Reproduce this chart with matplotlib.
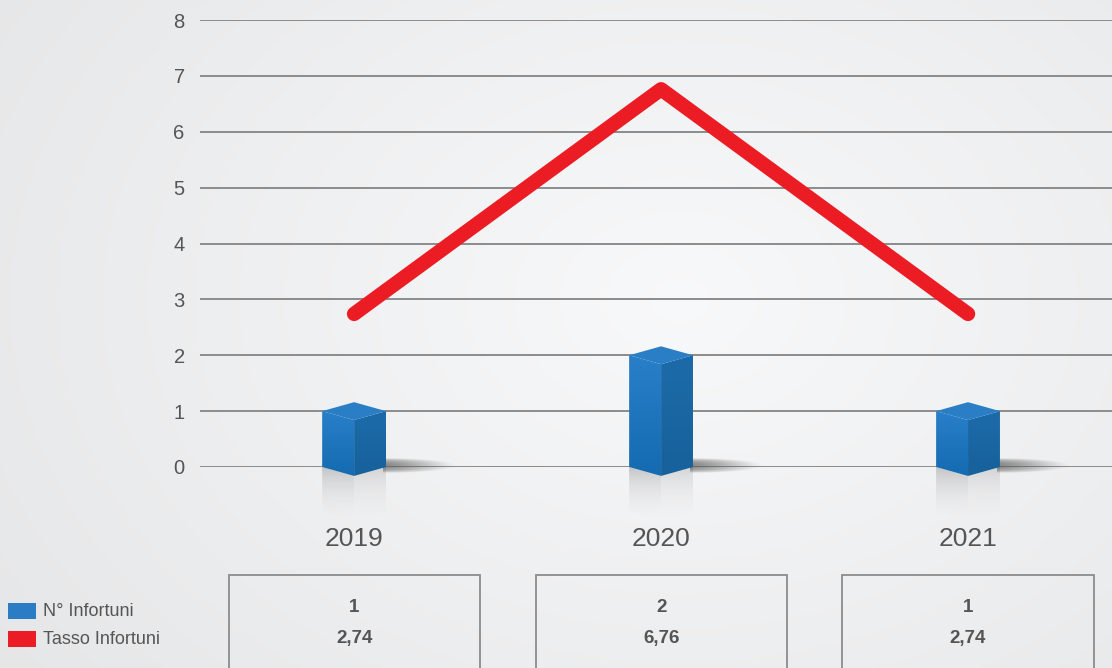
import numpy as np
import matplotlib.pyplot as plt
from matplotlib.patches import Polygon, Rectangle
from matplotlib.transforms import blended_transform_factory

years = ["2019", "2020", "2021"]
n_infortuni = [1, 2, 1]
tasso_infortuni = [2.74, 6.76, 2.74]
n_labels = ["1", "2", "1"]
tasso_labels = ["2,74", "6,76", "2,74"]

plt.rcParams['font.family'] = ['Liberation Sans', 'DejaVu Sans']
TXT = '#555555'

fig = plt.figure(figsize=(11.12, 6.68), dpi=100)

# background: soft radial gradient
bg = fig.add_axes([0, 0, 1, 1])
yy, xx = np.mgrid[0:668, 0:1112]
r = np.sqrt(((xx - 680) / 700.0) ** 2 + ((yy - 300) / 520.0) ** 2)
shade = np.clip(0.975 - 0.06 * r, 0.905, 0.98)
rgb = np.dstack([shade - 0.003, shade, shade + 0.004])
bg.imshow(np.clip(rgb, 0, 1), extent=[0, 1, 0, 1], aspect='auto', interpolation='bilinear')
bg.set_axis_off()

ax = fig.add_axes([200 / 1112, 201 / 668, 912 / 1112, 447 / 668])
ax.patch.set_alpha(0)
x = np.arange(len(years))
ax.set_xlim(-0.502, 2.469)
ax.set_ylim(0, 8)
ax.set_yticks(range(0, 9))
ax.grid(axis='y', color='#8c8c8c', linewidth=1.4)
ax.set_axisbelow(True)
for s in ax.spines.values():
    s.set_visible(False)
ax.tick_params(axis='y', length=0, pad=11, labelsize=14.5, labelcolor=TXT)
ax.set_xticks(x)
ax.set_xticklabels(years, fontsize=19, color=TXT)
ax.tick_params(axis='x', length=0, pad=43)

hw = 0.104
dy = 0.16


def clipped_image(img, extent, poly, z):
    im = ax.imshow(img, extent=extent, aspect='auto', origin='upper',
                   zorder=z, interpolation='bilinear')
    ax.add_patch(poly)
    poly.set_visible(False)
    im.set_clip_box(fig.bbox)
    im.set_clip_path(poly)
    return im


def vgrad(c_top, c_bot, a_top=1.0, a_bot=1.0, n=64, power=1.0):
    t = np.linspace(0, 1, n)[:, None, None]
    ct = np.array(c_top)[None, None, :]
    cb = np.array(c_bot)[None, None, :]
    col = ct * (1 - t) + cb * t
    a = a_top * (1 - t ** power) + a_bot * t ** power
    img = np.concatenate([col, a * np.ones_like(t)], axis=2)
    return np.repeat(img, 2, axis=1)


for xi, v in zip(x, n_infortuni):
    # reflection under the cube
    refl = vgrad((0.68, 0.68, 0.69), (0.85, 0.85, 0.86), 0.7, 0.0, power=0.7)
    pf = Polygon([(xi - hw, 0), (xi, -dy), (xi, -dy - 0.8), (xi - hw, -0.8)], closed=True)
    clipped_image(refl, [xi - hw, xi, -dy - 0.75, -0.01], pf, 2)
    refl2 = vgrad((0.76, 0.76, 0.77), (0.9, 0.9, 0.9), 0.65, 0.0, power=0.7)
    ps = Polygon([(xi, -dy), (xi + hw, 0), (xi + hw, -0.8), (xi, -dy - 0.8)], closed=True)
    clipped_image(refl2, [xi, xi + hw, -dy - 0.75, -0.01], ps, 2)

    # soft shadow to the right
    sx = np.linspace(0, 1, 80)[None, :]
    sy = np.linspace(-1, 1, 32)[:, None]
    sa = np.clip(1 - sx ** 2 - sy ** 2, 0, 1) ** 0.7 * 0.7 * (1 - sx) ** 0.6
    shadow = np.concatenate([np.full((32, 80, 3), 0.35), sa[..., None]], axis=2)
    sh = ax.imshow(shadow, extent=[xi + hw - 0.01, xi + hw + 0.23, -0.1, 0.16], aspect='auto',
                   zorder=2, interpolation='bilinear')
    sh.set_clip_box(fig.bbox)

    # cube faces
    front = Polygon([(xi - hw, 0), (xi - hw, v), (xi, v - dy), (xi, -dy)], closed=True)
    clipped_image(vgrad((0.16, 0.50, 0.79), (0.08, 0.42, 0.69)), [xi - hw, xi, -dy, v], front, 3)
    side = Polygon([(xi, -dy), (xi, v - dy), (xi + hw, v), (xi + hw, 0)], closed=True)
    clipped_image(vgrad((0.11, 0.42, 0.66), (0.09, 0.38, 0.61)), [xi, xi + hw, -dy, v], side, 3)
    top = Polygon([(xi - hw, v), (xi, v + dy), (xi + hw, v), (xi, v - dy)], closed=True,
                  facecolor='#2a7ec5', edgecolor='none', zorder=4, clip_on=False)
    ax.add_patch(top)

ax.plot(x, tasso_infortuni, color='#ec1c24', linewidth=10.4, solid_capstyle='round',
        solid_joinstyle='round', zorder=5, clip_on=False)

# table under the chart
trans = blended_transform_factory(ax.transData, fig.transFigure)
for xi, a, b in zip(x, n_labels, tasso_labels):
    ax.add_patch(Rectangle((xi - 0.409, -0.05), 0.818, 0.05 + 1 - 575 / 668, transform=trans,
                           facecolor='none', edgecolor='#8c8c8c', linewidth=1.3, clip_on=False))
    ax.text(xi, 1 - 608 / 668, a, transform=trans, ha='center', va='center',
            fontsize=13.5, fontweight='bold', color=TXT)
    ax.text(xi, 1 - 638 / 668, b, transform=trans, ha='center', va='center',
            fontsize=13.5, fontweight='bold', color=TXT)

# legend
fig.patches.append(Rectangle((8 / 1112, 1 - 619 / 668), 28 / 1112, 16 / 668,
                             transform=fig.transFigure, facecolor='#2a7cc4', edgecolor='none'))
fig.patches.append(Rectangle((8 / 1112, 1 - 647 / 668), 28 / 1112, 16 / 668,
                             transform=fig.transFigure, facecolor='#ec1c24', edgecolor='none'))
fig.text(43 / 1112, 1 - 611 / 668, "N° Infortuni", ha='left', va='center', fontsize=13, color=TXT)
fig.text(43 / 1112, 1 - 640 / 668, "Tasso Infortuni", ha='left', va='center', fontsize=13, color=TXT)

fig.savefig("out.png", dpi=100)
